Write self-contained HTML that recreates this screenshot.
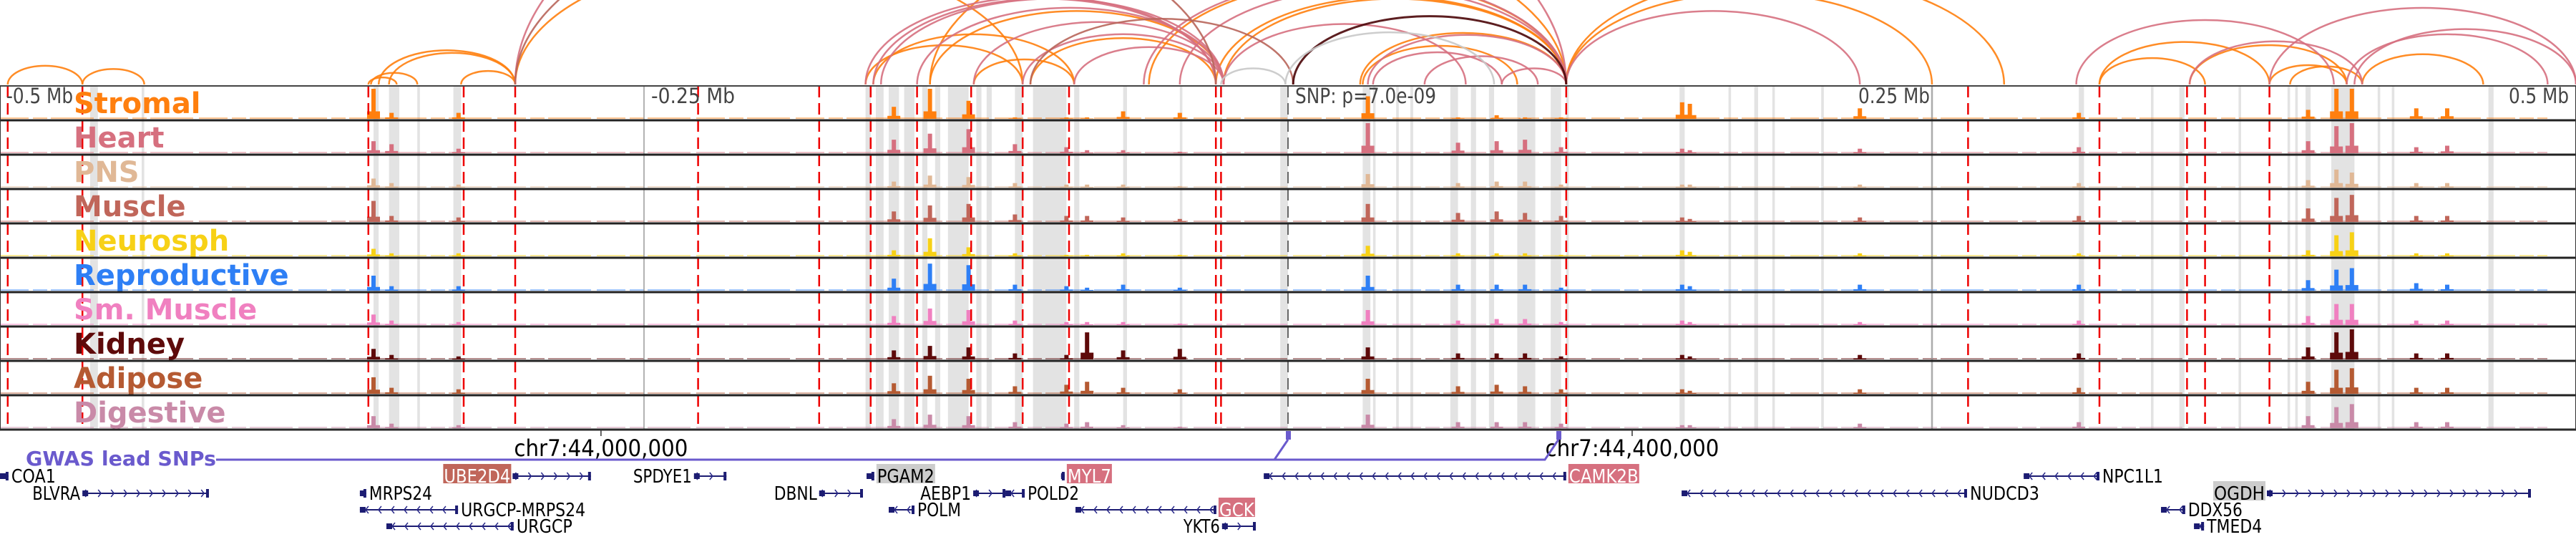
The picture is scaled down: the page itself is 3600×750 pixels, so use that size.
<!DOCTYPE html>
<html><head><meta charset="utf-8"><style>
html,body{margin:0;padding:0;background:#fff;}
svg{display:block;}
text{font-family:"DejaVu Sans","Liberation Sans",sans-serif;}
</style></head><body>
<svg id="chart" width="3600" height="750" viewBox="0 0 3600 750" xmlns="http://www.w3.org/2000/svg">
<defs><clipPath id="arcclip"><rect x="0" y="0" width="3600" height="119"/></clipPath></defs>
<g id="bands"></g><g id="arcs" clip-path="url(#arcclip)"></g><g id="signals"></g><g id="vlines"></g><g id="frames"></g><g id="labels"></g><g id="genes"></g>
</svg>
<script>
// ---- data (positions in kb relative to the lead SNP) ----
const trackNames = ["Stromal","Heart","PNS","Muscle","Neurosph","Reproductive","Sm. Muscle","Kidney","Adipose","Digestive"];
const trackColors = ["#ff7f0e","#d6707f","#e0b896","#c0665a","#f7d116","#2e7ff5","#f080c0","#5e0a0a","#b55a32","#c98aa8"];
const peakPos = [-355,-348,-322,-153,-139,-124,-106,-86,-78,-64,-42,31,66,81,92,106,153,156,222,307,396,407,413,438,450];
const hStromal = [1.0,.2,.2,.4,1.0,.6,.05,.05,.05,.25,.2,.75,.05,.12,.05,.05,.55,.5,.35,.2,.3,1,1,.35,.35];
const hHeart = [.4,.3,.15,.45,.65,.8,.3,.2,.1,.1,.05,1,.35,.4,.45,.2,.15,.1,.15,.2,.4,.9,1,.2,.25];
const hPNS = [.3,.15,.1,.2,.4,.35,.15,.1,.1,.1,.05,.45,.15,.2,.2,.1,.1,.1,.1,.15,.25,.6,.5,.15,.15];
const hMuscle = [.7,.2,.15,.35,.55,.6,.25,.2,.2,.15,.1,.6,.3,.35,.3,.2,.15,.1,.15,.2,.45,.8,.9,.2,.2];
const hNeurosph = [.25,.1,.1,.2,.6,.3,.1,.05,.05,.1,.05,.35,.1,.1,.1,.05,.2,.15,.1,.1,.2,.7,.8,.1,.1];
const hReproductive = [.5,.15,.15,.4,.9,.85,.2,.15,.1,.2,.1,.5,.2,.2,.2,.1,.2,.15,.2,.2,.35,.7,.75,.25,.2];
const hSmMuscle = [.35,.15,.1,.3,.55,.5,.15,.1,.1,.1,.05,.5,.15,.2,.2,.1,.15,.1,.1,.15,.3,.7,.7,.15,.15];
const hKidney = [.35,.15,.1,.3,.45,.4,.2,.15,.9,.3,.35,.4,.2,.2,.2,.1,.15,.1,.15,.2,.4,.9,1,.2,.2];
const hAdipose = [.55,.2,.15,.35,.6,.5,.25,.3,.4,.2,.15,.5,.25,.3,.25,.15,.15,.1,.15,.2,.4,.8,.85,.2,.2];
const hDigestive = [.4,.15,.1,.3,.45,.4,.2,.15,.2,.1,.05,.45,.2,.2,.2,.15,.1,.1,.15,.2,.4,.7,.8,.2,.2];
const redLines = [-497,-468,-357,-320,-300,-229,-182,-162,-144,-123,-103,-85,-28,-26,108,264,315,349,356,381];
const bandStart = [-465,-445,-355,-349,-338,-324,-164,-160,-155,-149,-142,-137,-132,-121,-117,-106,-99,-83,-64,-42,-3,29,33,42,47.5,63,71,78,89,102,108,152,171,181,188,207,249.5,307,335,346,369,388,391,395,405,423,428.5,466];
const bandEnd   = [-462,-444,-353,-345,-337,-321,-162,-157,-151,-145,-140,-135,-124,-119,-115,-103,-86,-81,-62.5,-41,0,32,34,43,48.6,66,73,80,96,106,109,154,172,182.5,189,208,250.5,309,336,348,370,389,392,397,414,424,429.5,468];
const arcStart = [-497,-468,-357,-356,-353,-349,-321,-300,-164,-161,-139,-122,-100,-28,-25,-54,28,29,108,108,-139,315,315,350,381,389,417,
  -300,-161,-158,-144,-122,-103,-83,-56,-42,-25,31,33,53,83,108,306,350,411,414,381,-164, -300,-100, 2, -26,-1];
const arcEnd = [-468,-444,-346,-338,-300,-300,-300,-103,-103,-83,-25,-83,-28,108,108,108,108,89,250,278,108,356,381,411,411,417,464,
  108,-28,-25,-25,-25,-25,-25,108,108,69,108,83,97,108,222,406,417,489,500,500,-28, -28,2, 108, -1,80];
const arcKind = ["S","S","S","S","S","S","S","S","S","S","S","S","S","S","S","S","S","S","S","S","S","S","S","S","S","S","S",
  "H","H","H","H","H","H","H","H","H","H","H","H","H","H","H","H","H","H","H","H","H","B","B","K","G","G"];
const geneNames = ["COA1","UBE2D4","SPDYE1","PGAM2","MYL7","CAMK2B","NPC1L1","BLVRA","MRPS24","DBNL","AEBP1","POLD2","NUDCD3","OGDH","URGCP-MRPS24","POLM","GCK","DDX56","URGCP","YKT6","TMED4"];
const geneRow = [0,0,0,0,0,0,0,1,1,1,1,1,1,1,2,2,2,2,3,3,3];
const geneStart = [-500,-301,-230.6,-163.6,-88.1,-9.4,285.6,-468,-360.3,-182,-122.2,-109.7,152.8,380,-360.3,-155,-82.5,338.9,-350,-25.6,351.7];
const geneEnd = [-496.7,-270.6,-218,-160.6,-86.7,108,315,-418.9,-357.8,-165,-109.7,-102.2,263.6,482.5,-322.2,-145,-27.8,348.3,-300.6,-12.5,355.6];
const geneStrand = ["-","+","+","-","-","-","-","+","-","+","+","-","-","+","-","-","-","-","-","+","-"];
const geneLabelSide = ["R","L","L","R","R","R","R","L","R","L","L","R","R","L","R","R","R","R","R","L","R"];
const geneHighlight = ["","#c0665a","","#cccccc","#d6707f","#d6707f","","","","","","","","#cccccc","","","#d6707f","","","",""];
const geneLabelWidth = [62,93,82,80,61,97,85,67,88,60,71,72,97,71,174,61,49,76,78,51,77];
const snpPos = [0,105];
const tickKb = [-500,-250,250,500];
const tickText = ["-0.5 Mb","-0.25 Mb","0.25 Mb","0.5 Mb"];
const tickWidth = [93,117,100,84];

// ---- scales ----
const X = kb => 1800 + kb*3.6;
const TRACK_TOP = 120, TRACK_H = 48;
const NS = "http://www.w3.org/2000/svg";
function mk(tag, attrs, parent){const e=document.createElementNS(NS,tag);for(const k in attrs)e.setAttribute(k,attrs[k]);parent.appendChild(e);return e;}
const heights=[hStromal,hHeart,hPNS,hMuscle,hNeurosph,hReproductive,hSmMuscle,hKidney,hAdipose,hDigestive];
const G = id => document.getElementById(id);

for(let i=0;i<bandStart.length;i++){
  const r=mk("rect",{x:X(bandStart[i]),y:TRACK_TOP,width:Math.max(3,X(bandEnd[i])-X(bandStart[i])),height:TRACK_H*10,fill:"#e3e3e3"},G("bands"));
  
  
}
const arcColor={S:"#ff7f0e",H:"#d6707f",B:"#b8655a",K:"#4a0508",G:"#c8c8c8"};
const arcWidth={S:2.5,H:2.5,B:2.5,K:3,G:2.5};
for(let i=0;i<arcStart.length;i++){
  const x1=X(arcStart[i]),x2=X(arcEnd[i]),rx=(x2-x1)/2,ry=(x2-x1)*0.25,b=118;
  const p=mk("path",{d:`M${x1},${b} A${rx},${ry} 0 0 1 ${x2},${b}`,fill:"none",stroke:arcColor[arcKind[i]],"stroke-width":arcWidth[arcKind[i]],opacity:0.9},G("arcs"));
  
  
}
for(let t=0;t<10;t++){
  const bot=TRACK_TOP+TRACK_H*(t+1)-2;
  const g=mk("g",{},G("signals"));
  
  
  mk("line",{x1:0,y1:bot-1,x2:3560,y2:bot-1,stroke:trackColors[t],"stroke-width":1.5,opacity:0.6,"stroke-dasharray":"40 6 20 5 60 8"},g);
  for(let i=0;i<peakPos.length;i++){
    const h=heights[t][i]*42;
    const b=mk("rect",{x:X(peakPos[i])-3,y:bot-h,width:6,height:h,fill:trackColors[t]},g);
    
    
    const s=mk("rect",{x:X(peakPos[i])-9,y:bot-h*0.25,width:18,height:h*0.25,fill:trackColors[t]},g);
    
    
  }
}
for(const kb of [-250,250]){
  const l=mk("line",{x1:X(kb),y1:120,x2:X(kb),y2:600,stroke:"#999","stroke-width":1.5},G("vlines"));
  
  
}
const sl=mk("line",{x1:X(0),y1:120,x2:X(0),y2:600,stroke:"#666","stroke-width":2,"stroke-dasharray":"16 8"},G("vlines"));


for(const kb of redLines){
  const l=mk("line",{x1:X(kb),y1:120,x2:X(kb),y2:600,stroke:"#ee0000","stroke-width":2.5,"stroke-dasharray":"16 8"},G("vlines"));
  
  
}
for(let t=0;t<=10;t++){
  const l=mk("line",{x1:0,y1:TRACK_TOP+TRACK_H*t,x2:3600,y2:TRACK_TOP+TRACK_H*t,stroke:t==0?"#555":"#222","stroke-width":t==0?2:3},G("frames"));
  
  
}
const fr=mk("rect",{x:0.5,y:120,width:3599,height:480,fill:"none",stroke:"#333","stroke-width":1},G("frames"));


for(let t=0;t<10;t++){
  const e=mk("text",{x:103,y:TRACK_TOP+TRACK_H*t+38,fill:trackColors[t],"font-size":40,"font-weight":"bold"},G("labels"));
  e.textContent=trackNames[t];
  
  
}
for(let i=0;i<tickKb.length;i++){
  const right=tickKb[i]>0;
  const x=tickKb[i]==-500?9:(tickKb[i]==500?3590:(right?X(tickKb[i])-3:X(tickKb[i])+10));
  const e=mk("text",{x:x,y:144,fill:"#444","font-size":29,"text-anchor":right?"end":"start",textLength:tickWidth[i],lengthAdjust:"spacingAndGlyphs"},G("labels"));
  e.textContent=tickText[i];
  
  
}
const snpT=mk("text",{x:1810,y:144,fill:"#444","font-size":29,textLength:197,lengthAdjust:"spacingAndGlyphs"},G("labels"));
snpT.textContent="SNP: p=7.0e-09";


for(const [kb,txt] of [[X(-266.7),"chr7:44,000,000"],[X(133.6),"chr7:44,400,000"]]){
  const tk=mk("line",{x1:kb,y1:600,x2:kb,y2:609,stroke:"#333","stroke-width":1.5},G("labels"));
  
  
  const e=mk("text",{x:kb,y:637,"font-size":32,"text-anchor":"middle",fill:"#000",textLength:243,lengthAdjust:"spacingAndGlyphs"},G("labels"));
  e.textContent=txt;
  
  
}
const gw=mk("text",{x:36,y:650,fill:"#6a5acd","font-size":28,"font-weight":"bold",textLength:266,lengthAdjust:"spacingAndGlyphs"},G("labels"));
gw.textContent="GWAS lead SNPs";


const gl=mk("polyline",{points:`302,642 ${X(snpPos[1])-19},642 ${X(snpPos[1])},614`,fill:"none",stroke:"#6a5acd","stroke-width":3},G("labels"));


const gl2=mk("polyline",{points:`${X(snpPos[0])-19},642 ${X(snpPos[0])},614`,fill:"none",stroke:"#6a5acd","stroke-width":3},G("labels"));


for(const s of snpPos){
  const m=mk("rect",{x:X(s)-3,y:602,width:7,height:12,fill:"#6a5acd"},G("labels"));
  
  
}
const rowY=[665,689,712,735];
for(let i=0;i<geneNames.length;i++){
  const g=mk("g",{},G("genes"));
  
  
  const y=rowY[geneRow[i]],x1=X(geneStart[i]),x2=X(geneEnd[i]);
  mk("line",{x1:x1,y1:y,x2:x2,y2:y,stroke:"#1c1c72","stroke-width":2},g);
  const dir=geneStrand[i]=="+"?1:-1;
  for(let x=x1+8;x<x2-4;x+=18){
    mk("polyline",{points:`${x-4*dir},${y-5} ${x},${y} ${x-4*dir},${y+5}`,fill:"none",stroke:"#2a2a8a","stroke-width":1.5},g);
  }
  mk("rect",{x:x1,y:y-4,width:Math.max(2,Math.min(8,x2-x1)),height:8,fill:"#1c1c72"},g);
  mk("rect",{x:x2-4,y:y-6,width:4,height:12,fill:"#1c1c72"},g);
  const w=geneLabelWidth[i];
  const lx=geneLabelSide[i]=="L"?x1-3-w:x2+4;
  if(geneHighlight[i]) mk("rect",{x:lx-1,y:y-17,width:w+2,height:27,fill:geneHighlight[i]},g);
  const t=mk("text",{x:lx,y:y+9,"font-size":26,textLength:w,lengthAdjust:"spacingAndGlyphs",fill:(geneHighlight[i]&&geneHighlight[i]!="#cccccc")?"#fff":"#000"},g);
  t.textContent=geneNames[i];
}
</script>
</body></html>
